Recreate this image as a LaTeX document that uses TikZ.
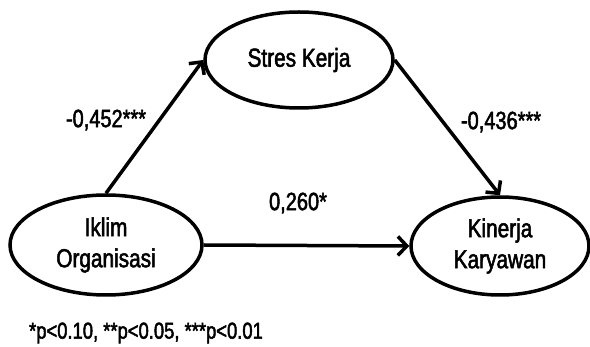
\documentclass[tikz,border=0pt]{standalone}
\usepackage{fontspec}
\setmainfont{Liberation Sans}[FakeStretch=0.8, FakeBold=2]
\usetikzlibrary{shapes.geometric, arrows.meta, positioning}

\begin{document}
\begin{tikzpicture}[
    x=1pt, y=-1pt,
    every node/.style={font=\fontsize{26}{31}\selectfont},
    var/.style={ellipse, draw=black, line width=3.5pt, fill=white, inner sep=0pt, align=center},
    path/.style={-{Straight Barb[length=9pt, width=19pt]}, line width=3.5pt, black},
    coef/.style={font=\fontsize{25}{28}\selectfont},
    note/.style={font=\fontsize{23}{26}\selectfont}
]
\useasboundingbox (0,0) rectangle (590,347);

% Variabel laten
\node[var, minimum width=188pt, minimum height=96pt] (stres) at (299,60) {Stres Kerja};
\node[var, minimum width=192pt, minimum height=100pt] (iklim) at (106,245) {Iklim\\Organisasi};
\node[var, minimum width=178pt, minimum height=98pt] (kinerja) at (500,246) {Kinerja\\Karyawan};

% Jalur
\draw[path] (iklim.north) -- (stres.west);
\draw[path] (stres.east) -- (kinerja.north);
\draw[path] (iklim.east) -- (kinerja.west);

% Koefisien
\node[coef] (c1) at (106,120) {-0,452***};
\node[coef] (c2) at (501,122) {-0,436***};
\node[coef] (c3) at (298,203) {0,260*};

\node[note] (sig) at (146,333) {*p<0.10, **p<0.05, ***p<0.01};

\end{tikzpicture}
\end{document}
